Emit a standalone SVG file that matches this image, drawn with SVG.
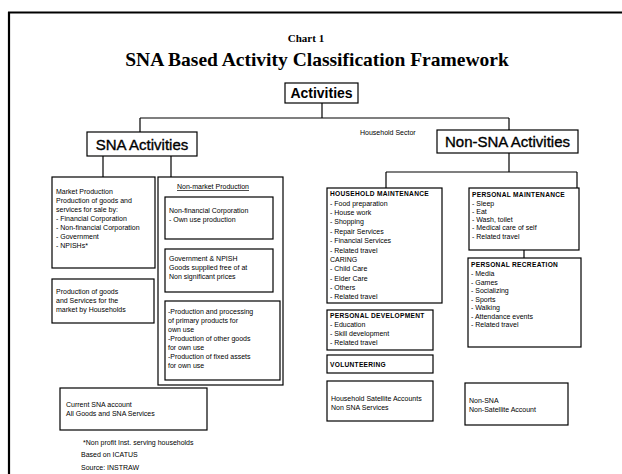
<svg xmlns="http://www.w3.org/2000/svg" width="622" height="474" viewBox="0 0 622 474">
<style>
.box{fill:none;stroke:#000;stroke-width:1.2}
.ln{fill:none;stroke:#000;stroke-width:1.2}
.s{font-family:"Liberation Sans",Arial,sans-serif;font-size:7px;fill:#000}
.sb{font-family:"Liberation Sans",Arial,sans-serif;font-size:6.6px;font-weight:bold;fill:#000;letter-spacing:0.3px}
.h{font-family:"Liberation Sans",Arial,sans-serif;font-weight:bold;fill:#000}
.hm{font-family:"Liberation Sans",Arial,sans-serif;fill:#000;stroke:#000;stroke-width:0.35}
.t{font-family:"Liberation Serif","Times New Roman",serif;font-weight:bold;fill:#000}
</style>
<rect width="622" height="474" fill="#fff"/>
<g id="frame">
<line x1="8" y1="12.5" x2="622" y2="12.5" stroke="#000" stroke-width="2"/>
<line x1="9" y1="12" x2="9" y2="474" stroke="#000" stroke-width="2.2"/>
</g>
<g id="title">
<text class="t" x="306" y="42" font-size="11" text-anchor="middle">Chart  1</text>
<text class="t" x="317" y="66" font-size="19.5" text-anchor="middle">SNA Based Activity Classification Framework</text>
</g>
<g id="connectors">
<line class="ln" x1="322" y1="103" x2="322" y2="118"/>
<line class="ln" x1="140" y1="118" x2="509" y2="118"/>
<line class="ln" x1="140" y1="118" x2="140" y2="132"/>
<line class="ln" x1="509" y1="118" x2="509" y2="130"/>
<line class="ln" x1="103" y1="156" x2="103" y2="177"/>
<line class="ln" x1="171" y1="156" x2="171" y2="177"/>
<line class="ln" x1="509" y1="153" x2="509" y2="172"/>
<line class="ln" x1="386" y1="172" x2="577" y2="172"/>
<line class="ln" x1="386" y1="172" x2="386" y2="188"/>
<line class="ln" x1="577" y1="172" x2="577" y2="188"/>
<line class="ln" x1="524" y1="250" x2="524" y2="258"/>
</g>
<g id="activities">
<rect class="box" x="285" y="83" width="73" height="20"/>
<text class="h" x="321.5" y="98" font-size="14" text-anchor="middle">Activities</text>
</g>
<g id="sna">
<rect class="box" x="87" y="132" width="110" height="24"/>
<text class="hm" x="142" y="149.5" font-size="15" text-anchor="middle">SNA Activities</text>
</g>
<g id="nonsna">
<rect class="box" x="437" y="130" width="141" height="23"/>
<text class="hm" x="507.5" y="147" font-size="15" text-anchor="middle">Non-SNA Activities</text>
<text class="s" x="360" y="135" font-size="6.5">Household Sector</text>
</g>
<g id="market">
<rect class="box" x="52" y="177" width="103" height="91"/>
<text class="s" x="56" y="194">Market Production</text>
<text class="s" x="56" y="203">Production of goods and</text>
<text class="s" x="56" y="212">services for sale by:</text>
<text class="s" x="56" y="221">- Financial Corporation</text>
<text class="s" x="56" y="230">- Non-financial Corporation</text>
<text class="s" x="56" y="239">- Government</text>
<text class="s" x="56" y="248">- NPISHs*</text>
</g>
<g id="hhmarket">
<rect class="box" x="52" y="279" width="102" height="44"/>
<text class="s" x="56" y="294">Production of goods</text>
<text class="s" x="56" y="303">and Services for the</text>
<text class="s" x="56" y="312">market by Households</text>
</g>
<g id="nonmarket">
<rect class="box" x="158" y="177" width="125" height="208"/>
<text class="s" x="177" y="189" text-decoration="underline">Non-market Production</text>
</g>
<g id="nonfin">
<rect class="box" x="165" y="197" width="108" height="42"/>
<text class="s" x="169" y="213">Non-financial Corporation</text>
<text class="s" x="169" y="222">- Own use production</text>
</g>
<g id="govt">
<rect class="box" x="165" y="249" width="108" height="43"/>
<text class="s" x="169" y="261">Government &amp; NPISH</text>
<text class="s" x="169" y="270">Goods supplied free of at</text>
<text class="s" x="169" y="279">Non significant prices</text>
</g>
<g id="ownuse">
<rect class="box" x="165" y="301" width="115" height="79"/>
<text class="s" x="168" y="314">-Production and processing</text>
<text class="s" x="168" y="323">of primary products for</text>
<text class="s" x="168" y="332">own use</text>
<text class="s" x="168" y="341">-Production of other goods</text>
<text class="s" x="168" y="350">for own use</text>
<text class="s" x="168" y="359">-Production of fixed assets</text>
<text class="s" x="168" y="368">for own use</text>
</g>
<g id="current">
<rect class="box" x="60" y="388" width="147" height="42"/>
<text class="s" x="66" y="407">Current SNA account</text>
<text class="s" x="66" y="416">All Goods and SNA Services</text>
</g>
<g id="notes">
<text class="s" x="83" y="445" font-size="6">*Non profit Inst. serving households</text>
<text class="s" x="81" y="457" font-size="6">Based on ICATUS</text>
<text class="s" x="81" y="470" font-size="6">Source: INSTRAW</text>
</g>
<g id="hhmaint">
<rect class="box" x="327" y="188" width="115" height="115"/>
<text class="sb" x="330" y="196">HOUSEHOLD MAINTENANCE</text>
<text class="s" x="330" y="206">- Food preparation</text>
<text class="s" x="330" y="215">- House work</text>
<text class="s" x="330" y="224">- Shopping</text>
<text class="s" x="330" y="234">- Repair Services</text>
<text class="s" x="330" y="243">- Financial Services</text>
<text class="s" x="330" y="253">- Related travel</text>
<text class="s" x="330" y="262">CARING</text>
<text class="s" x="330" y="271">- Child Care</text>
<text class="s" x="330" y="281">- Elder Care</text>
<text class="s" x="330" y="290">- Others</text>
<text class="s" x="330" y="299">- Related travel</text>
</g>
<g id="persdev">
<rect class="box" x="327" y="310" width="106" height="40"/>
<text class="sb" x="330" y="318">PERSONAL DEVELOPMENT</text>
<text class="s" x="330" y="327">- Education</text>
<text class="s" x="330" y="336">- Skill development</text>
<text class="s" x="330" y="345">- Related travel</text>
</g>
<g id="volunteer">
<rect class="box" x="327" y="355" width="106" height="18"/>
<text class="sb" x="330" y="367">VOLUNTEERING</text>
</g>
<g id="satellite">
<rect class="box" x="327" y="381" width="106" height="40"/>
<text class="s" x="331" y="401">Household Satellite Accounts</text>
<text class="s" x="331" y="410">Non SNA Services</text>
</g>
<g id="persmaint">
<rect class="box" x="469" y="188" width="110" height="62"/>
<text class="sb" x="472" y="197">PERSONAL MAINTENANCE</text>
<text class="s" x="472" y="206">- Sleep</text>
<text class="s" x="472" y="214">- Eat</text>
<text class="s" x="472" y="222">- Wash, toilet</text>
<text class="s" x="472" y="230">- Medical care of self</text>
<text class="s" x="472" y="239">- Related travel</text>
</g>
<g id="persrec">
<rect class="box" x="468" y="258" width="113" height="89"/>
<text class="sb" x="471" y="267">PERSONAL RECREATION</text>
<text class="s" x="471" y="276">- Media</text>
<text class="s" x="471" y="285">- Games</text>
<text class="s" x="471" y="293">- Socializing</text>
<text class="s" x="471" y="302">- Sports</text>
<text class="s" x="471" y="310">- Walking</text>
<text class="s" x="471" y="319">- Attendance events</text>
<text class="s" x="471" y="327">- Related travel</text>
</g>
<g id="nonsat">
<rect class="box" x="465" y="383" width="103" height="42"/>
<text class="s" x="469" y="403">Non-SNA</text>
<text class="s" x="469" y="412">Non-Satellite Account</text>
</g>
</svg>
